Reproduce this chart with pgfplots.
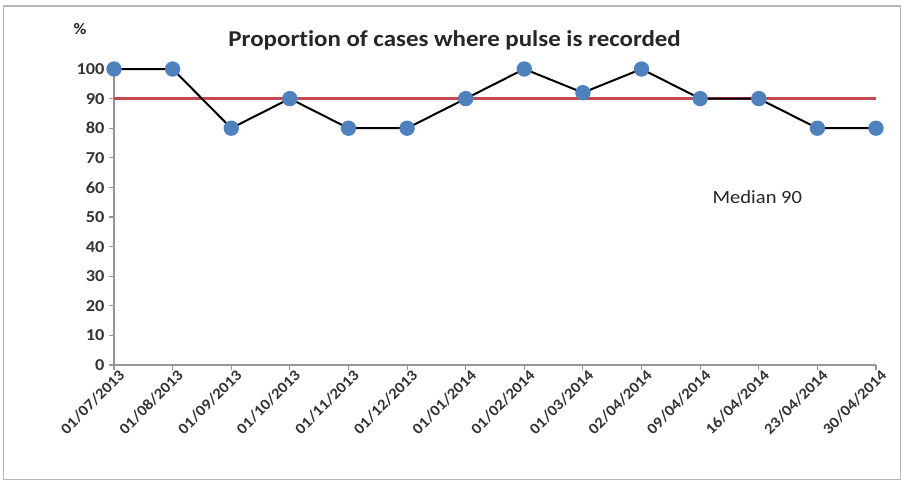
\documentclass[border=0pt]{standalone}
\usepackage{pgfplots}
\pgfplotsset{compat=1.18}
\usepackage{fontspec}
\setmainfont{Carlito}[Ligatures=NoCommon, FakeStretch=1.1]
\definecolor{ptblue}{RGB}{79,129,189}
\definecolor{medred}{RGB}{196,72,80}
\definecolor{axgray}{RGB}{150,150,150}
\begin{document}
\begin{tikzpicture}
\useasboundingbox (0pt,0pt) rectangle (678pt,-362.25pt);
\draw[axgray!70, line width=0.8pt] (2.5pt,-4.5pt) rectangle (675.5pt,-359.5pt);
\begin{axis}[
  at={(85.5pt,-273.75pt)}, anchor=south west,
  scale only axis, width=571.5pt, height=222pt,
  xmin=0, xmax=13, ymin=0, ymax=100,
  clip=false,
  axis x line=bottom, axis y line=left,
  axis line style={axgray, line width=0.8pt, -},
  xtick={0,...,13},
  xticklabels={01/07/2013,01/08/2013,01/09/2013,01/10/2013,01/11/2013,01/12/2013,01/01/2014,01/02/2014,01/03/2014,02/04/2014,09/04/2014,16/04/2014,23/04/2014,30/04/2014},
  ytick={0,10,...,100},
  tick align=outside, major tick length=4pt,
  tick style={axgray, line width=0.8pt},
  /pgf/number format/assume math mode=true,
  tick label style={font=\bfseries\fontsize{12.5}{15}\selectfont, text=black!80},
  xticklabel style={rotate=45, anchor=north east, inner sep=1pt, font=\bfseries\fontsize{11.5}{14}\selectfont, xshift=4pt},
  yticklabel style={inner sep=3pt},
]
\addplot[medred, line width=2.3pt] coordinates {(0,90) (13,90)};
\addplot[black, line width=1.5pt, mark=*, mark size=5pt,
  mark options={fill=ptblue, draw=ptblue}] coordinates {
(0,100) (1,100) (2,80) (3,90) (4,80) (5,80) (6,90) (7,100) (8,92) (9,100) (10,90) (11,90) (12,80) (13,80)};
\end{axis}
\node[font=\bfseries\fontsize{17}{20}\selectfont, text=black!85] at (341pt,-30pt) {Proportion of cases where pulse is recorded};
\node[font=\bfseries\fontsize{12}{14}\selectfont, text=black!85] at (60pt,-22pt) {\%};
\node[font=\fontsize{14}{17}\selectfont, text=black!85] at (568pt,-147.5pt) {Median 90};
\end{tikzpicture}
\end{document}
